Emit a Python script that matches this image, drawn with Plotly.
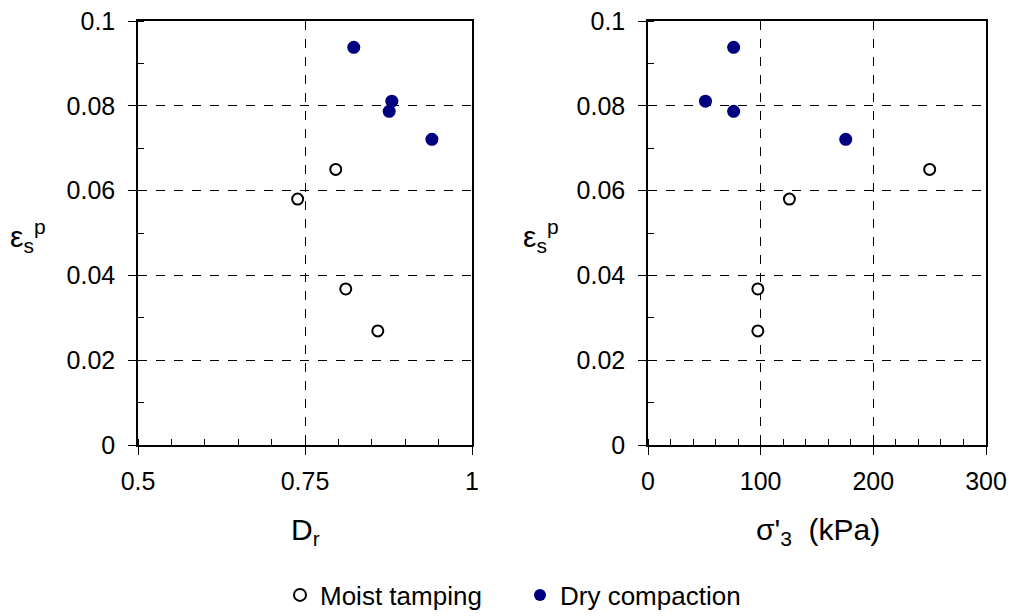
import plotly.graph_objects as go

# Moist tamping (open circles)
moist_dr = [0.739, 0.796, 0.811, 0.859]
moist_sigma = [125.5, 250.0, 97.5, 97.5]
moist_eps = [0.058, 0.065, 0.0368, 0.0269]

# Dry compaction (filled circles)
dry_dr = [0.823, 0.880, 0.876, 0.940]
dry_sigma = [76.0, 51.0, 76.0, 175.5]
dry_eps = [0.0938, 0.0811, 0.0787, 0.0721]

W, H = 1015, 616
FONT = "Liberation Sans, Arial, sans-serif"
NAVY = "#000080"

fig = go.Figure()

open_marker = dict(symbol="circle", size=11, color="white", line=dict(color="black", width=2))
fill_marker = dict(symbol="circle", size=13, color=NAVY, line=dict(color=NAVY, width=0))

fig.add_trace(go.Scatter(x=moist_dr, y=moist_eps, mode="markers", name="Moist tamping",
                         marker=open_marker, legendgroup="m", showlegend=True,
                         xaxis="x", yaxis="y"))
fig.add_trace(go.Scatter(x=dry_dr, y=dry_eps, mode="markers", name="Dry compaction",
                         marker=fill_marker, legendgroup="d", showlegend=True,
                         xaxis="x", yaxis="y"))
fig.add_trace(go.Scatter(x=moist_sigma, y=moist_eps, mode="markers", name="Moist tamping",
                         marker=open_marker, legendgroup="m", showlegend=False,
                         xaxis="x2", yaxis="y2"))
fig.add_trace(go.Scatter(x=dry_sigma, y=dry_eps, mode="markers", name="Dry compaction",
                         marker=fill_marker, legendgroup="d", showlegend=False,
                         xaxis="x2", yaxis="y2"))

def px_x(p):
    return p / W

def px_y(p):
    return (H - p) / H

common = dict(
    showline=True, linecolor="black", linewidth=1.5, mirror=True,
    ticks="outside", ticklen=8, tickwidth=1.2, tickcolor="black",
    showgrid=True, gridcolor="black", gridwidth=1, griddash="dash",
    zeroline=False, automargin=False,
    tickfont=dict(family=FONT, size=25, color="black"),
)

ydom = [px_y(445), px_y(21)]

fig.update_layout(
    width=W, height=H,
    margin=dict(l=0, r=0, t=0, b=0, autoexpand=False),
    paper_bgcolor="white", plot_bgcolor="white",
    font=dict(family=FONT, color="black"),
    xaxis=dict(domain=[px_x(138), px_x(472)], range=[0.5, 1.0], dtick=0.25, tick0=0.5,
               anchor="y",
               minor=dict(ticks="inside", ticklen=6, dtick=0.05, tick0=0.5, tickcolor="black", showgrid=False),
               ticklabelstandoff=5, **common),
    yaxis=dict(domain=ydom, range=[0, 0.1], dtick=0.02, tick0=0, anchor="x",
               minor=dict(ticks="inside", ticklen=6, dtick=0.01, tick0=0, tickcolor="black", showgrid=False),
               ticklabelstandoff=8, **common),
    xaxis2=dict(domain=[px_x(648), px_x(986)], range=[0, 300], dtick=100, tick0=0,
                anchor="y2",
                minor=dict(ticks="inside", ticklen=6, dtick=20, tick0=0, tickcolor="black", showgrid=False),
                ticklabelstandoff=5, **common),
    yaxis2=dict(domain=ydom, range=[0, 0.1], dtick=0.02, tick0=0, anchor="x2",
                minor=dict(ticks="inside", ticklen=6, dtick=0.01, tick0=0, tickcolor="black", showgrid=False),
                ticklabelstandoff=8, **common),
    showlegend=True,
    legend=dict(orientation="h", x=px_x(280), xanchor="left", y=px_y(595), yanchor="middle",
                font=dict(family=FONT, size=26, color="black"),
                itemsizing="constant", entrywidth=195, entrywidthmode="pixels",
                bgcolor="rgba(0,0,0,0)"),
)

ann_font = dict(family=FONT, size=30, color="black")
fig.add_annotation(x=px_x(305), y=px_y(531), xref="paper", yref="paper",
                   text="D<sub>r</sub>", showarrow=False, font=ann_font,
                   xanchor="center", yanchor="middle")
fig.add_annotation(x=px_x(818), y=px_y(531), xref="paper", yref="paper",
                   text="σ'<sub>3</sub>  (kPa)", showarrow=False, font=ann_font,
                   xanchor="center", yanchor="middle")
fig.add_annotation(x=px_x(8), y=px_y(236), xref="paper", yref="paper",
                   text="ε<sub>s</sub><sup>p</sup>", showarrow=False, font=ann_font,
                   xanchor="left", yanchor="middle")
fig.add_annotation(x=px_x(521), y=px_y(236), xref="paper", yref="paper",
                   text="ε<sub>s</sub><sup>p</sup>", showarrow=False, font=ann_font,
                   xanchor="left", yanchor="middle")

fig.write_html("out.html")
